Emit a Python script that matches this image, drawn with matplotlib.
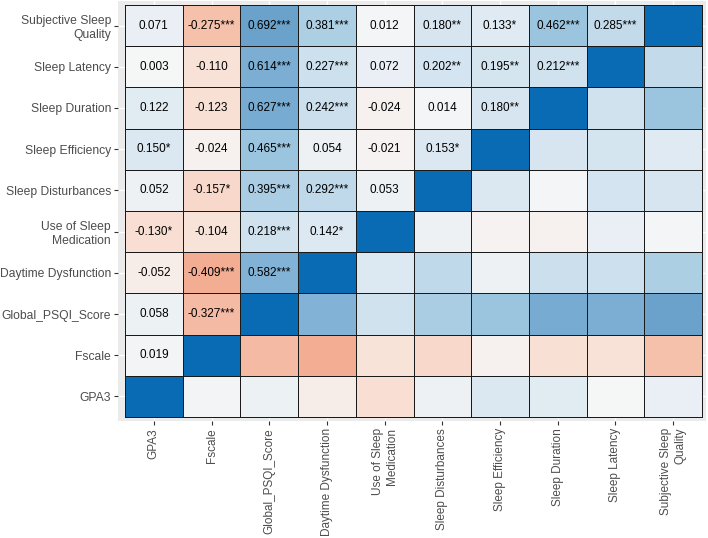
import matplotlib
matplotlib.use("Agg")
import matplotlib.pyplot as plt
import numpy as np
from matplotlib.colors import LinearSegmentedColormap, Normalize

plt.rcParams['font.family'] = ['Liberation Sans', 'DejaVu Sans']

variables = ["GPA3", "Fscale", "Global_PSQI_Score", "Daytime Dysfunction",
             "Use of Sleep Medication", "Sleep Disturbances", "Sleep Efficiency",
             "Sleep Duration", "Sleep Latency", "Subjective Sleep Quality"]
tick_labels = ["GPA3", "Fscale", "Global_PSQI_Score", "Daytime Dysfunction",
               "Use of Sleep\nMedication", "Sleep Disturbances", "Sleep Efficiency",
               "Sleep Duration", "Sleep Latency", "Subjective Sleep\nQuality"]

# lower-triangle correlations (row variable vs. preceding variables)
r_fscale = [0.019]
r_global = [0.058, -0.327]
r_daytime = [-0.052, -0.409, 0.582]
r_usemed = [-0.130, -0.104, 0.218, 0.142]
r_disturb = [0.052, -0.157, 0.395, 0.292, 0.053]
r_eff = [0.150, -0.024, 0.465, 0.054, -0.021, 0.153]
r_dur = [0.122, -0.123, 0.627, 0.242, -0.024, 0.014, 0.180]
r_lat = [0.003, -0.110, 0.614, 0.227, 0.072, 0.202, 0.195, 0.212]
r_subj = [0.071, -0.275, 0.692, 0.381, 0.012, 0.180, 0.133, 0.462, 0.285]

s_fscale = [""]
s_global = ["", "***"]
s_daytime = ["", "***", "***"]
s_usemed = ["*", "", "***", "*"]
s_disturb = ["", "*", "***", "***", ""]
s_eff = ["*", "", "***", "", "", "*"]
s_dur = ["", "", "***", "***", "", "", "**"]
s_lat = ["", "", "***", "***", "", "**", "**", "***"]
s_subj = ["", "***", "***", "***", "", "**", "*", "***", "***"]

rows_r = [[], r_fscale, r_global, r_daytime, r_usemed, r_disturb, r_eff, r_dur, r_lat, r_subj]
rows_s = [[], s_fscale, s_global, s_daytime, s_usemed, s_disturb, s_eff, s_dur, s_lat, s_subj]

n = len(variables)
M = np.eye(n)
for i in range(n):
    for j, v in enumerate(rows_r[i]):
        M[i, j] = v
        M[j, i] = v

stops = [(-1.0, "#c0392b"), (-0.409, "#f3ae93"), (-0.275, "#f5c2ac"), (-0.11, "#f8e2d8"),
         (0.0, "#f6f6f6"), (0.2, "#d4e4f0"), (0.462, "#9cc5df"), (0.692, "#6ba2cc"),
         (1.0, "#0a6bb5")]
cmap = LinearSegmentedColormap.from_list(
    "corr", [((v + 1) / 2, c) for v, c in stops])
norm = Normalize(-1, 1)

fig = plt.figure(figsize=(7.08, 5.38), dpi=100)
ax = fig.add_axes([118 / 708, 1 - 421 / 538, (706 - 118) / 708, 420 / 538])
ax.set_facecolor("#ebebeb")
ax.set_axisbelow(True)
ax.grid(True, color="white", lw=1.0)

xe = np.arange(n + 1) - 0.5
ax.pcolormesh(xe, xe, M, cmap=cmap, norm=norm, edgecolors="#1a1a1a", linewidth=0.6, zorder=2)

for i in range(n):
    for j, v in enumerate(rows_r[i]):
        ax.text(j, i, f"{v:.3f}{rows_s[i][j]}", ha="center", va="center",
                fontsize=8.5, color="black", zorder=3)

ax.set_xlim(-0.5 - 0.121, 9.5 + 0.069)
ax.set_ylim(-0.5 - 0.097, 9.5 + 0.097)
ax.set_xticks(range(n))
ax.set_yticks(range(n))
ax.set_xticklabels(tick_labels, rotation=90, ha="center", va="top",
                   multialignment="right", fontsize=8.5, color="#4d4d4d")
ax.set_yticklabels(tick_labels, fontsize=8.7, color="#4d4d4d", multialignment="right")
ax.tick_params(axis="both", length=3, width=0.8, color="#333333", pad=2)
for sp in ax.spines.values():
    sp.set_visible(False)

fig.savefig("out.png", dpi=100)
